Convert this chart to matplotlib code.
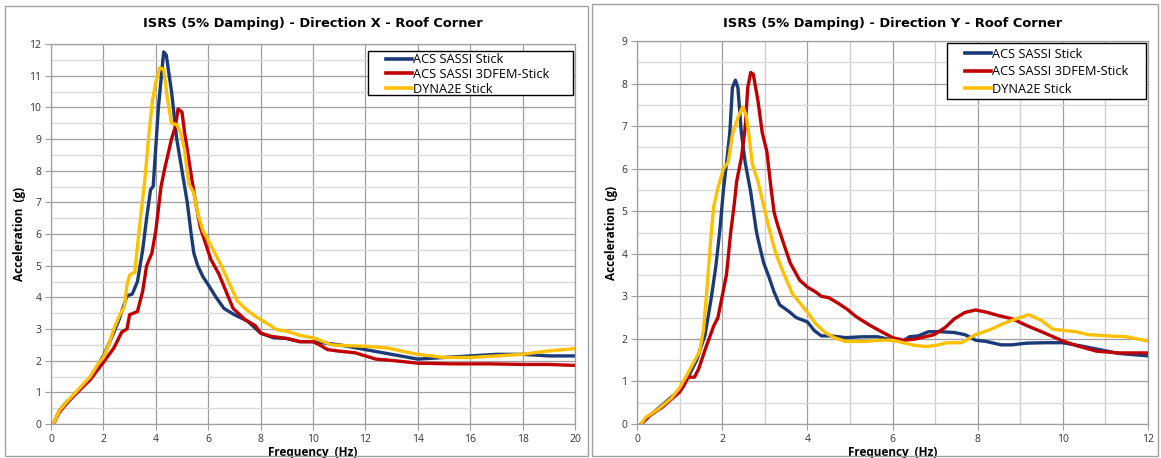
import matplotlib
matplotlib.use("Agg")
import matplotlib.pyplot as plt
from matplotlib.patches import Rectangle
from matplotlib.ticker import MultipleLocator
from matplotlib.legend_handler import HandlerLine2D
from matplotlib.lines import Line2D

# ---------------- Data: Direction X ----------------
x_blue_X = [0.1, 0.3, 0.6, 1.0, 1.5, 2.0, 2.3, 2.6, 2.9, 3.1, 3.3, 3.5, 3.65, 3.8, 3.9, 4.1, 4.3, 4.4, 4.6,
            4.8, 5.0, 5.2, 5.35, 5.45, 5.6, 5.8, 6.0, 6.3, 6.6, 7.0, 7.5, 8.0, 8.5, 9.0, 9.5, 10.0, 11.0, 12.0,
            13.0, 14.0, 15.0, 16.0, 17.0, 18.0, 19.0, 20.0]
y_blue_X = [0.0, 0.4, 0.7, 1.0, 1.45, 2.15, 2.7, 3.3, 4.05, 4.1, 4.5, 5.5, 6.5, 7.4, 7.5, 10.0, 11.75, 11.65, 10.5,
            9.0, 8.0, 7.0, 6.0, 5.4, 5.0, 4.65, 4.4, 4.0, 3.65, 3.45, 3.25, 2.87, 2.72, 2.7, 2.6, 2.6, 2.5, 2.35,
            2.2, 2.05, 2.1, 2.15, 2.2, 2.2, 2.15, 2.15]

x_red_X = [0.1, 0.3, 0.6, 1.0, 1.5, 2.0, 2.4, 2.7, 2.9, 3.0, 3.3, 3.5, 3.65, 3.85, 4.0, 4.2, 4.35, 4.6, 4.75,
           4.85, 5.0, 5.1, 5.25, 5.4, 5.55, 5.7, 5.9, 6.1, 6.4, 6.65, 6.95, 7.4, 7.8, 8.0, 8.4, 9.0, 9.5,
           10.0, 10.25, 10.55, 11.0, 11.6, 12.0, 12.4, 13.1, 14.0, 15.3, 16.7, 18.1, 19.0, 20.0]
y_red_X = [0.0, 0.35, 0.65, 1.0, 1.4, 1.95, 2.4, 2.9, 3.0, 3.45, 3.55, 4.2, 5.0, 5.4, 6.1, 7.5, 8.1, 9.0, 9.4,
           9.95, 9.85, 9.2, 8.4, 7.6, 6.85, 6.2, 5.7, 5.2, 4.75, 4.25, 3.65, 3.3, 3.1, 2.87, 2.77, 2.7, 2.6,
           2.6, 2.5, 2.35, 2.3, 2.25, 2.15, 2.05, 2.0, 1.92, 1.9, 1.9, 1.88, 1.88, 1.85]

x_yel_X = [0.1, 0.3, 0.6, 1.0, 1.5, 1.8, 2.0, 2.2, 2.4, 2.6, 2.8, 2.9, 3.0, 3.2, 3.36, 3.58, 3.72, 3.87, 4.0,
           4.15, 4.3, 4.45, 4.6, 4.8, 4.95, 5.1, 5.25, 5.45, 5.6, 5.8, 6.0, 6.25, 6.5, 6.8, 7.1, 7.4, 7.8,
           8.1, 8.4, 8.6, 9.0, 9.5, 10.1, 10.7, 11.4, 12.1, 12.85, 13.4, 14.0, 15.0, 16.0, 17.0, 18.0, 18.9, 20.0]
y_yel_X = [0.0, 0.4, 0.7, 1.05, 1.5, 1.9, 2.1, 2.5, 3.0, 3.4, 3.7, 4.4, 4.7, 4.8, 6.1, 7.7, 9.0, 10.2, 10.8,
           11.25, 11.2, 10.25, 9.5, 9.45, 9.2, 8.65, 7.6, 7.3, 6.65, 6.1, 5.8, 5.4, 5.0, 4.45, 3.9, 3.65, 3.4,
           3.25, 3.1, 2.98, 2.93, 2.8, 2.7, 2.5, 2.47, 2.45, 2.4, 2.3, 2.2, 2.1, 2.1, 2.15, 2.2, 2.3, 2.38]

# ---------------- Data: Direction Y ----------------
x_blue_Y = [0.1, 0.3, 0.6, 1.0, 1.2, 1.4, 1.6, 1.75, 1.85, 1.94, 2.03, 2.11, 2.18, 2.24, 2.31, 2.37, 2.45,
            2.54, 2.67, 2.8, 2.84, 2.97, 3.1, 3.22, 3.35, 3.56, 3.74, 4.0, 4.16, 4.33, 4.55, 4.9, 5.3, 5.65,
            6.0, 6.25, 6.4, 6.6, 6.85, 7.1, 7.45, 7.7, 7.95, 8.2, 8.55, 8.8, 9.15, 9.6, 10.0, 10.45, 10.85,
            11.3, 12.0]
y_blue_Y = [0.0, 0.2, 0.45, 0.8, 1.1, 1.5, 2.1, 3.0, 3.7, 4.5, 5.5, 6.2, 6.85, 7.9, 8.08, 7.9, 6.85,
            6.15, 5.45, 4.55, 4.35, 3.8, 3.45, 3.1, 2.8, 2.65, 2.5, 2.4, 2.2, 2.07, 2.07, 2.03, 2.05, 2.05,
            1.97, 1.95, 2.05, 2.07, 2.17, 2.17, 2.15, 2.1, 1.97, 1.94, 1.86, 1.86, 1.9, 1.91, 1.91, 1.83, 1.75,
            1.66, 1.6]

x_red_Y = [0.1, 0.3, 0.6, 1.0, 1.1, 1.2, 1.35, 1.45, 1.6, 1.8, 1.9, 2.0, 2.1, 2.2, 2.28, 2.34, 2.45, 2.54,
           2.6, 2.67, 2.73, 2.84, 2.94, 3.05, 3.14, 3.22, 3.31, 3.44, 3.6, 3.82, 4.0, 4.2, 4.33, 4.5, 4.72,
           4.93, 5.15, 5.45, 5.74, 6.0, 6.25, 6.5, 6.77, 6.98, 7.24, 7.45, 7.7, 7.95, 8.2, 8.48, 8.82, 9.16,
           9.59, 10.0, 10.36, 10.8, 11.3, 12.0]
y_red_Y = [0.0, 0.2, 0.4, 0.75, 0.9, 1.1, 1.1, 1.3, 1.75, 2.3, 2.5, 3.0, 3.5, 4.5, 5.13, 5.7, 6.25, 6.95,
           7.9, 8.26, 8.22, 7.6, 6.85, 6.4, 5.6, 4.97, 4.65, 4.25, 3.78, 3.38, 3.22, 3.1, 3.0, 2.97, 2.84,
           2.7, 2.52, 2.33, 2.17, 2.03, 1.97, 1.99, 2.05, 2.1, 2.27, 2.47, 2.62, 2.68, 2.63, 2.55, 2.47, 2.31,
           2.13, 1.95, 1.83, 1.71, 1.67, 1.67]

x_yel_Y = [0.1, 0.2, 0.5, 0.8, 1.0, 1.2, 1.47, 1.56, 1.64, 1.73, 1.8, 1.9, 2.03, 2.14, 2.24, 2.37, 2.48,
           2.56, 2.62, 2.71, 2.84, 2.97, 3.1, 3.26, 3.44, 3.65, 3.82, 4.03, 4.2, 4.42, 4.63, 4.9, 5.32, 5.74,
           6.0, 6.25, 6.5, 6.77, 7.03, 7.28, 7.62, 7.95, 8.3, 8.65, 8.9, 9.2, 9.5, 9.76, 10.0, 10.3, 10.6,
           11.05, 11.5, 12.0]
y_yel_Y = [0.0, 0.15, 0.35, 0.6, 0.85, 1.2, 1.71, 2.2, 3.14, 4.33, 5.1, 5.55, 6.0, 6.15, 6.8, 7.2, 7.45,
           7.27, 6.87, 6.1, 5.7, 5.15, 4.6, 4.0, 3.55, 3.06, 2.85, 2.59, 2.35, 2.15, 2.03, 1.94, 1.94, 1.97,
           1.97, 1.91, 1.85, 1.82, 1.85, 1.91, 1.91, 2.1, 2.22, 2.38, 2.47, 2.57, 2.43, 2.23, 2.2, 2.17, 2.1,
           2.07, 2.05, 1.95]

series_names = ["ACS SASSI Stick", "ACS SASSI 3DFEM-Stick", "DYNA2E Stick"]
titles = ["ISRS (5% Damping) - Direction X - Roof Corner",
          "ISRS (5% Damping) - Direction Y - Roof Corner"]
xlabel = "Frequency  (Hz)"
ylabel = "Acceleration  (g)"

colors = ["#1B3A78", "#C00000", "#FFC000"]

fig = plt.figure(figsize=(11.61, 4.58), dpi=100)
W, H = 1161, 458

def fx(px):
    return px / W

def fy(py):
    return 1 - py / H

def frame(x0, y0, x1, y1, color, lw):
    r = Rectangle((fx(x0), fy(y1)), fx(x1 - x0), (y1 - y0) / H,
                  transform=fig.transFigure, fill=False, edgecolor=color, linewidth=lw)
    fig.patches.append(r)

# panel borders
frame(5, 6, 588, 456, "#A0A0A0", 1.0)
frame(592, 4, 1158, 456, "#A0A0A0", 1.0)

font_txt = ["Open Sans", "DejaVu Sans"]
font_title = ["DejaVu Sans"]

def setup(ax, xmax, ymax, xmajor, xgrid_minor, title, tpad):
    ax.set_xlim(0, xmax)
    ax.set_ylim(0, ymax)
    ax.xaxis.set_major_locator(MultipleLocator(xmajor))
    ax.yaxis.set_major_locator(MultipleLocator(1))
    ax.yaxis.set_minor_locator(MultipleLocator(0.5))
    if xgrid_minor:
        ax.xaxis.set_minor_locator(MultipleLocator(1))
        ax.grid(True, which="minor", axis="x", color="#D0D0D0", linewidth=1.0)
    ax.grid(True, which="major", color="#9E9E9E", linewidth=0.9)
    ax.grid(True, which="minor", axis="y", color="#D9D9D9", linewidth=1.0)
    ax.set_axisbelow(True)
    for s in ax.spines.values():
        s.set_color("#9E9E9E")
        s.set_linewidth(0.9)
    ax.tick_params(which="major", length=4, color="#9E9E9E", labelsize=7.5, pad=3,
                   labelcolor="#333333")
    ax.tick_params(which="minor", length=0)
    for lab in ax.get_xticklabels() + ax.get_yticklabels():
        lab.set_family(font_txt)
    ax.set_xlabel(xlabel, fontsize=8.5, fontweight="bold", labelpad=1, family=font_txt)
    ax.set_ylabel(ylabel, fontsize=8.5, fontweight="bold", labelpad=2, family=font_txt)
    ax.set_title(title, fontsize=9.4, fontweight="bold", pad=tpad, family=font_title)

axL = fig.add_axes([fx(51), fy(424), fx(575 - 51), (424 - 44) / H])
axR = fig.add_axes([fx(637), fy(424), fx(1148 - 637), (424 - 41) / H])

for ax, xs, ys in [(axL, [x_blue_X, x_red_X, x_yel_X], [y_blue_X, y_red_X, y_yel_X]),
                   (axR, [x_blue_Y, x_red_Y, x_yel_Y], [y_blue_Y, y_red_Y, y_yel_Y])]:
    for xv, yv, c, n in zip(xs, ys, colors, series_names):
        ax.plot(xv, yv, color=c, linewidth=2.4, label=n, solid_joinstyle="round")

setup(axL, 20, 12, 2, False, titles[0], 12)
setup(axR, 12, 9, 2, True, titles[1], 10)

leg_fs = 9.2
fs_px = leg_fs * 100 / 72.0
# legend boxes (figure pixels): x0, y0, x1, y1, text-anchor top, labelspacing
legend_specs = [(axL, (368, 51, 573, 95), 53, 0.14),
                (axR, (947, 43, 1146, 99), 47.5, 0.36)]
for ax, (bx0, by0, bx1, by1), top, spacing in legend_specs:
    box = Rectangle((fx(bx0), fy(by1)), fx(bx1 - bx0), (by1 - by0) / H,
                    transform=fig.transFigure, facecolor="white", edgecolor="black",
                    linewidth=1.0, zorder=4, clip_on=False)
    ax.add_patch(box)
    hl = 44.0 / fs_px
    leg = ax.legend(loc="upper left", bbox_to_anchor=(fx(bx0), fy(top)),
                    bbox_transform=fig.transFigure, frameon=False,
                    borderpad=0, borderaxespad=0, handlelength=hl, handletextpad=0.05,
                    labelspacing=spacing, prop={"family": font_txt, "size": leg_fs},
                    handler_map={Line2D: HandlerLine2D(xpad=18.0 / fs_px)})
    leg.set_zorder(6)
    for line in leg.get_lines():
        line.set_linewidth(2.6)

fig.savefig("out.png", dpi=100, facecolor="white")
